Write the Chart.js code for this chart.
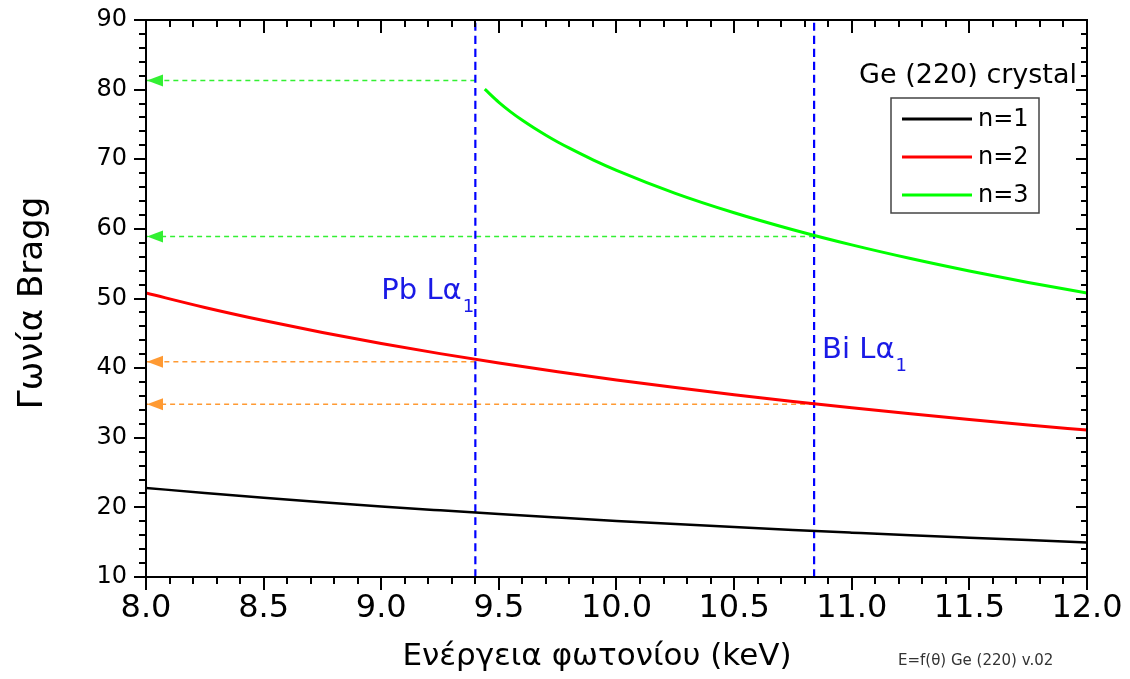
<!DOCTYPE html>
<html>
<head>
<meta charset="utf-8">
<title>Bragg angle Ge (220)</title>
<script src="https://cdn.jsdelivr.net/npm/chart.js"></script>
<style>
  html, body { margin: 0; padding: 0; background: #fff; }
  #wrap { width: 1130px; height: 679px; }
</style>
</head>
<body>
<div id="wrap"><canvas id="bragg" width="1130" height="679"></canvas></div>
<script>
// photon energy (keV) and Bragg angle (deg) per diffraction order
const energy = [8.0, 8.25, 8.5, 8.75, 9.0, 9.25, 9.5, 9.75, 10.0, 10.25, 10.5, 10.75, 11.0, 11.25, 11.5, 11.75, 12.0];
const angleN1 = [22.79, 22.07, 21.39, 20.75, 20.14, 19.58, 19.04, 18.54, 18.06, 17.60, 17.17, 16.76, 16.37, 15.99, 15.64, 15.30, 14.97];
const angleN2 = [50.79, 48.71, 46.83, 45.11, 43.53, 42.08, 40.73, 39.48, 38.31, 37.21, 36.18, 35.21, 34.30, 33.44, 32.62, 31.84, 31.10];
const energyN3 = [9.44, 9.5, 9.55, 9.6, 9.65, 9.7, 9.75, 9.8, 9.9, 10.0, 10.25, 10.5, 10.75, 11.0, 11.25, 11.5, 11.75, 12.0];
const angleN3 = [80.06, 78.17, 76.81, 75.59, 74.48, 73.45, 72.48, 71.59, 69.92, 68.41, 65.11, 62.32, 59.88, 57.70, 55.74, 53.95, 52.31, 50.79];

// emission lines (keV)
const lineNames = ['Pb Lα', 'Bi Lα'];
const lineEnergy = [9.40, 10.84];

// read-off arrows: start energy, angle, order
const arrowEnergy = [9.40, 10.84, 9.40, 10.84];
const arrowAngle = [81.3, 58.9, 40.9, 34.8];
const arrowOrder = [3, 3, 2, 2];

const xTicks = [8.0, 8.5, 9.0, 9.5, 10.0, 10.5, 11.0, 11.5, 12.0];
const yTicks = [10, 20, 30, 40, 50, 60, 70, 80, 90];

const orderColor = { 1: '#000000', 2: '#ff0000', 3: '#00ff00' };
const arrowColor = { 2: '#ff9a33', 3: '#33f033' };
const FONT = '"DejaVu Sans", "Liberation Sans", Arial, sans-serif';

const pts = (xs, ys) => xs.map((x, i) => ({ x: x, y: ys[i] }));

const datasets = [
  { label: 'n=1', data: pts(energy, angleN1), borderColor: orderColor[1], borderWidth: 2.5 },
  { label: 'n=2', data: pts(energy, angleN2), borderColor: orderColor[2], borderWidth: 3 },
  { label: 'n=3', data: pts(energyN3, angleN3), borderColor: orderColor[3], borderWidth: 3 }
];

lineEnergy.forEach((e, i) => {
  datasets.push({
    label: lineNames[i], data: [{ x: e, y: 10 }, { x: e, y: 90 }],
    borderColor: '#0000ff', borderWidth: 2.2, borderDash: [8, 5]
  });
});

arrowEnergy.forEach((e, i) => {
  datasets.push({
    label: 'arrow' + i, data: [{ x: e, y: arrowAngle[i] }, { x: 8.0, y: arrowAngle[i] }],
    borderColor: arrowColor[arrowOrder[i]], borderWidth: 1.5, borderDash: [5, 4]
  });
});

// frame, ticks, legend, annotations
const decorations = {
  id: 'decorations',
  afterDatasetsDraw(chart) {
    const ctx = chart.ctx;
    const xs = chart.scales.x, ys = chart.scales.y;
    const a = chart.chartArea;
    ctx.save();

    // arrowheads at the y axis
    arrowAngle.forEach((v, i) => {
      const px = xs.getPixelForValue(8.0), py = ys.getPixelForValue(v);
      ctx.fillStyle = arrowColor[arrowOrder[i]];
      ctx.beginPath();
      ctx.moveTo(px + 1, py);
      ctx.lineTo(px + 17, py - 6);
      ctx.lineTo(px + 17, py + 6);
      ctx.closePath();
      ctx.fill();
    });

    // frame
    ctx.strokeStyle = '#000';
    ctx.lineWidth = 2;
    ctx.strokeRect(a.left, a.top, a.right - a.left, a.bottom - a.top);

    // ticks: outside on bottom/left, inside on top/right
    ctx.beginPath();
    for (let v = 8.0; v <= 12.0001; v += 0.1) {
      const major = Math.abs(v * 2 - Math.round(v * 2)) < 1e-6;
      const px = Math.round(xs.getPixelForValue(v));
      const len = major ? 13 : 7;
      ctx.moveTo(px, a.bottom); ctx.lineTo(px, a.bottom + len);
      ctx.moveTo(px, a.top); ctx.lineTo(px, a.top + len);
    }
    for (let v = 10; v <= 90; v += 2) {
      const major = v % 10 === 0;
      const py = Math.round(ys.getPixelForValue(v));
      ctx.moveTo(a.left, py); ctx.lineTo(a.left - (major ? 12 : 7), py);
      ctx.moveTo(a.right, py); ctx.lineTo(a.right - (major ? 11 : 6), py);
    }
    ctx.stroke();

    // emission line labels
    ctx.fillStyle = '#1a1ae6';
    ctx.textBaseline = 'alphabetic';
    const labelAt = [
      { x: xs.getPixelForValue(lineEnergy[0]) - 94, y: ys.getPixelForValue(49.9) },
      { x: xs.getPixelForValue(lineEnergy[1]) + 8, y: ys.getPixelForValue(41.45) }
    ];
    lineNames.forEach((name, i) => {
      ctx.font = '29px ' + FONT;
      ctx.textAlign = 'left';
      ctx.fillText(name, labelAt[i].x, labelAt[i].y);
      const w = ctx.measureText(name).width;
      ctx.font = '18px ' + FONT;
      ctx.fillText('1', labelAt[i].x + w + 1, labelAt[i].y + 13);
    });

    // legend
    ctx.fillStyle = '#000';
    ctx.font = '27px ' + FONT;
    ctx.textAlign = 'right';
    ctx.fillText('Ge (220) crystal', 1077, 83);
    ctx.fillStyle = '#fff';
    ctx.fillRect(891, 98, 148, 115);
    ctx.strokeStyle = '#444';
    ctx.lineWidth = 1.5;
    ctx.strokeRect(891, 98, 148, 115);
    [0, 1, 2].forEach(i => {
      const y = 119 + i * 38;
      const ds = chart.data.datasets[i];
      ctx.strokeStyle = ds.borderColor;
      ctx.lineWidth = 3;
      ctx.beginPath();
      ctx.moveTo(902, y); ctx.lineTo(972, y);
      ctx.stroke();
      ctx.fillStyle = '#000';
      ctx.font = '24px ' + FONT;
      ctx.textAlign = 'left';
      ctx.textBaseline = 'middle';
      ctx.fillText(ds.label, 978, y + 1);
    });

    // axis titles
    ctx.fillStyle = '#000';
    ctx.textAlign = 'center';
    ctx.textBaseline = 'alphabetic';
    ctx.font = '31px ' + FONT;
    ctx.fillText('Ενέργεια φωτονίου (keV)', 597, 665);
    ctx.save();
    ctx.translate(42, 303);
    ctx.rotate(-Math.PI / 2);
    ctx.font = '34px ' + FONT;
    ctx.fillText('Γωνία Bragg', 0, 0);
    ctx.restore();

    ctx.fillStyle = '#333';
    ctx.font = '15px ' + FONT;
    ctx.textAlign = 'left';
    ctx.fillText('E=f(θ) Ge (220) v.02', 898, 665);

    ctx.restore();
  }
};

new Chart(document.getElementById('bragg'), {
  type: 'line',
  data: { datasets: datasets },
  options: {
    responsive: false,
    animation: false,
    devicePixelRatio: 1,
    layout: { padding: { top: 20, right: 43, left: 0, bottom: 0 } },
    elements: {
      point: { radius: 0, hoverRadius: 0 },
      line: { cubicInterpolationMode: 'monotone', fill: false }
    },
    plugins: { legend: { display: false }, tooltip: { enabled: false } },
    scales: {
      x: {
        type: 'linear', min: 8.0, max: 12.0,
        afterBuildTicks: s => { s.ticks = xTicks.map(v => ({ value: v })); },
        afterFit: s => { s.height = 102; s.paddingLeft = 0; s.paddingRight = 0; },
        grid: { display: false, drawTicks: false },
        border: { display: false },
        ticks: {
          padding: 12, color: '#000',
          font: { family: FONT, size: 32 },
          maxRotation: 0, autoSkip: false,
          callback: v => v.toFixed(1)
        }
      },
      y: {
        min: 10, max: 90,
        afterBuildTicks: s => { s.ticks = yTicks.map(v => ({ value: v })); },
        afterFit: s => { s.width = 146; s.paddingTop = 0; s.paddingBottom = 0; },
        grid: { display: false, drawTicks: false },
        border: { display: false },
        ticks: {
          padding: 19, color: '#000',
          font: { family: FONT, size: 24 },
          autoSkip: false
        }
      }
    }
  },
  plugins: [decorations]
});
</script>
</body>
</html>
